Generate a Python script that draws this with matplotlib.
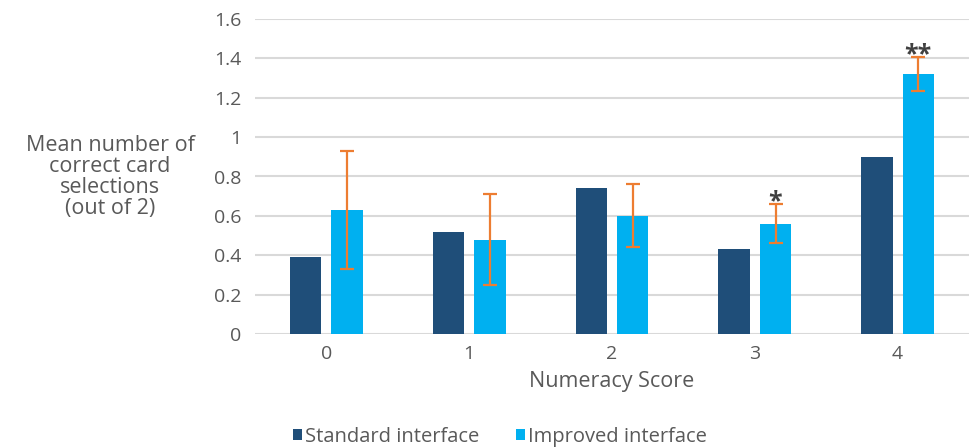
import matplotlib
matplotlib.use('Agg')
import matplotlib.pyplot as plt
import numpy as np

scores = [0, 1, 2, 3, 4]
standard = [0.39, 0.52, 0.74, 0.43, 0.90]
improved = [0.63, 0.48, 0.60, 0.56, 1.32]
improved_err = [0.30, 0.23, 0.16, 0.10, 0.085]
stars = ['', '', '', '*', '**']
yticks = [0, 0.2, 0.4, 0.6, 0.8, 1, 1.2, 1.4, 1.6]

grey = '#595959'
plt.rcParams['font.family'] = ['Open Sans', 'DejaVu Sans']

fig = plt.figure(figsize=(9.79, 4.48), dpi=100)
ax = fig.add_axes([255 / 979, 1 - 334 / 448, 714 / 979, 315 / 448])

x = np.array(scores)
w = 0.22
off = 0.145
ax.bar(x - off, standard, w, color='#1F4E79', label='Standard interface', zorder=2)
ax.bar(x + off, improved, w, color='#00B0F0', label='Improved interface', zorder=2)
ax.errorbar(x + off, improved, yerr=improved_err, fmt='none', ecolor='#ED7D31',
            elinewidth=1.6, capsize=5, capthick=1.6, zorder=3)
for xi, yi, e, s in zip(x, improved, improved_err, stars):
    if s:
        ax.text(xi + off, yi + e - 0.05, s, ha='center', va='bottom',
                fontsize=18, fontweight='bold', color='#404040')

ax.set_xlim(-0.5, 4.5)
ax.set_ylim(0, 1.6)
ax.set_yticks(yticks)
ax.set_yticklabels(['%g' % t for t in yticks])
ax.set_xticks(x)
ax.yaxis.grid(True, color='#D9D9D9', linewidth=1.5, zorder=0)
ax.set_axisbelow(True)
for sp in ax.spines.values():
    sp.set_visible(False)
ax.tick_params(length=0, labelsize=14, colors=grey, pad=8)
ax.tick_params(axis='y', pad=10)
ax.set_xlabel('Numeracy Score', fontsize=15.5, color=grey, labelpad=6)

fig.text(110 / 979, 1 - 177 / 448, 'Mean number of\ncorrect card\nselections\n(out of 2)',
         ha='center', va='center', fontsize=15.5, color=grey, linespacing=1.02)

fig.legend(loc='center', bbox_to_anchor=(500 / 979, 1 - 437 / 448), ncol=2, frameon=False,
           fontsize=14.5, labelcolor=grey, handlelength=0.45, handleheight=0.45,
           handletextpad=0.15, columnspacing=1.8)

fig.savefig('out.png', dpi=100)
